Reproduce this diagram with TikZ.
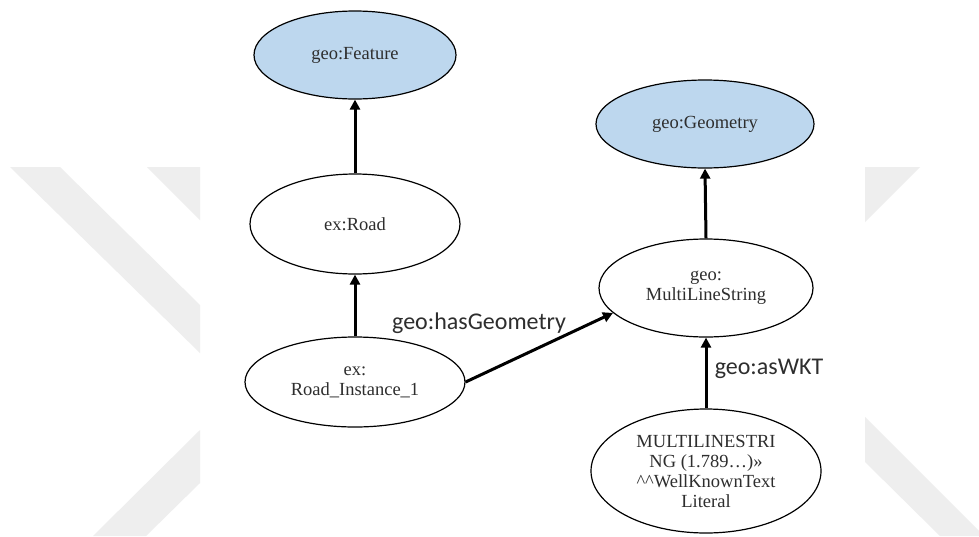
\documentclass[tikz,border=0pt]{standalone}
\usepackage{fontspec}
\setmainfont{Liberation Serif}
\newfontfamily\labelfont{Carlito}
\usetikzlibrary{shapes.geometric,arrows.meta}
\definecolor{classfill}{HTML}{BDD7EE}
\definecolor{txtgray}{HTML}{2E2E2E}
\definecolor{wmgray}{HTML}{EEEEEE}

\begin{document}
\begin{tikzpicture}[x=1pt,y=-1pt,
  res/.style={ellipse,draw=black,line width=1.2pt,inner sep=0pt,align=center,
    text=txtgray,font=\fontsize{18.5}{20}\selectfont},
  cls/.style={res,fill=classfill},
  arr/.style={line width=3pt,-{Triangle[width=10pt,length=10pt]}},
  prop/.style={font=\labelfont\fontsize{24}{26}\selectfont,text=txtgray,inner sep=0pt},
  wm/.style={fill=wmgray}]

% page
\useasboundingbox (0,0) rectangle (979,536);
\fill[white] (0,0) rectangle (979,536);

% background mark, left side
\fill[wm] (10,167) -- (60,167) -- (200,305) -- (200,353) -- cycle;
\fill[wm] (147,167) -- (200,167) -- (200,220) -- cycle;
\fill[wm] (93,536) -- (200,430) -- (200,483) -- (146,536) -- cycle;
% background mark, right side
\fill[wm] (865,167) -- (920,167) -- (865,222) -- cycle;
\fill[wm] (865,417) -- (979,531) -- (979,536) -- (940,536) -- (865,462) -- cycle;

% classes
\node[cls,minimum width=202,minimum height=88] (feat) at (355,55) {geo:Feature};
\node[cls,minimum width=218,minimum height=88] (geom) at (705,124) {geo:Geometry};

% resources
\node[res,minimum width=210,minimum height=100] (road) at (355,224) {ex:Road};
\node[res,minimum width=220,minimum height=90] (inst) at (355,382) {ex:\\Road\_Instance\_1};
\node[res,minimum width=214,minimum height=98] (mls) at (706,288) {geo:\\MultiLineString};
\node[res,minimum width=230,minimum height=124] (wkt) at (706,471)
  {MULTILINESTRI\\NG (1.789…)»\\\textasciicircum\textasciicircum WellKnownText\\Literal};

% connectors
\draw[arr] (road.north) -- (feat.south);
\draw[arr] (inst.north) -- (road.south);
\draw[arr] (mls.north) -- (geom.south);
\draw[arr] (wkt.north) -- (mls.south);
\draw[arr] (inst.east) -- (mls.195);

% property labels
\node[prop] (hasgeom) at (479,323) {geo:hasGeometry};
\node[prop] (aswkt) at (769,369) {geo:asWKT};
\end{tikzpicture}
\end{document}
